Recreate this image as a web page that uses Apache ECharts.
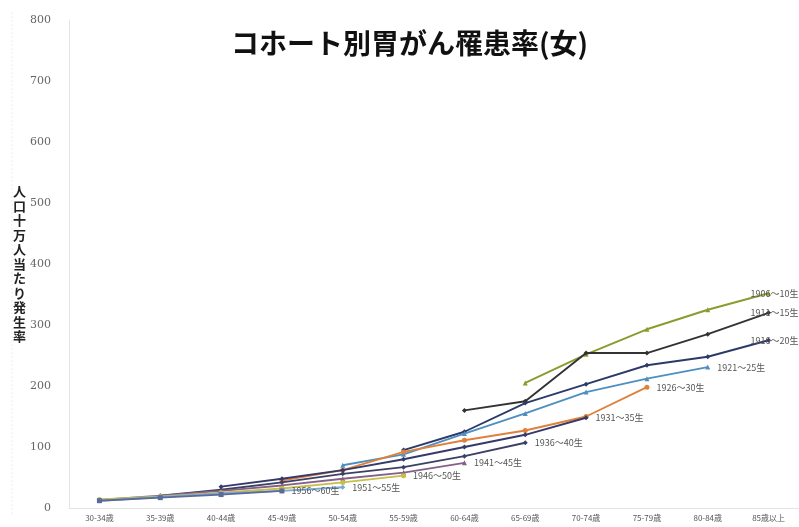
<!DOCTYPE html>
<html>
<head>
<meta charset="utf-8">
<script src="https://cdn.jsdelivr.net/npm/echarts@6/dist/echarts.min.js"></script>
<style>
html,body{margin:0;padding:0;background:#fff;}
#chart{width:799px;height:527px;}
</style>
</head>
<body>
<div id="chart"></div>
<script>
// Age groups on the x axis
const ageGroups = ['30-34歳','35-39歳','40-44歳','45-49歳','50-54歳','55-59歳',
                   '60-64歳','65-69歳','70-74歳','75-79歳','80-84歳','85歳以上'];

// Birth cohorts, and the age group where each cohort's record begins
const cohortNames = ['1906～10生','1911～15生','1916～20生','1921～25生','1926～30生','1931～35生',
                     '1936～40生','1941～45生','1946～50生','1951～55生','1956～60生'];
const startIndex  = [7, 6, 5, 4, 3, 2, 1, 0, 0, 0, 0];

// Incidence per 100,000 women, by cohort
const c1906 = [205, 252, 293, 325, 352];
const c1911 = [160, 175, 254, 254, 285, 320];
const c1916 = [95, 125, 172, 203, 234, 248, 275];
const c1921 = [70, 88, 122, 155, 190, 212, 231];
const c1926 = [45, 62, 92, 111, 127, 150, 198];
const c1931 = [35, 48, 62, 80, 100, 120, 148];
const c1936 = [20, 30, 42, 56, 67, 85, 107];
const c1941 = [13, 20, 28, 37, 48, 58, 74];
const c1946 = [14, 19, 25, 32, 42, 53];
const c1951 = [12, 18, 24, 28, 34];
const c1956 = [12, 17, 22, 28];
const cohortValues = [c1906, c1911, c1916, c1921, c1926, c1931, c1936, c1941, c1946, c1951, c1956];

const lineColors = ['#8d9a2e','#333333','#2c3a68','#4f8fc0','#e0803a','#343a6a',
                    '#3c4064','#86608a','#c6bf48','#7aa8d8','#5a6a9a'];
const markerShapes = ['triangle','diamond','diamond','triangle','circle','diamond',
                      'diamond','triangle','circle','diamond','rect'];

const series = cohortNames.map((name, k) => {
  const vals = cohortValues[k];
  const data = ageGroups.map(() => null);
  vals.forEach((v, j) => {
    const idx = startIndex[k] + j;
    if (j === vals.length - 1) {
      const atEdge = idx === ageGroups.length - 1;
      data[idx] = {
        value: v,
        label: {
          show: true,
          formatter: name,
          position: atEdge ? 'inside' : 'right',
          offset: atEdge ? [6, 0] : [2, 0],
          fontSize: 9,
          color: '#555',
          fontFamily: 'Noto Sans CJK JP'
        }
      };
    } else {
      data[idx] = v;
    }
  });
  return {
    name: name,
    type: 'line',
    data: data,
    connectNulls: false,
    symbol: markerShapes[k],
    symbolSize: 5,
    lineStyle: { width: 1.9, color: lineColors[k] },
    itemStyle: { color: lineColors[k] },
    animation: false,
    z: 3 + k
  };
});

const chart = echarts.init(document.getElementById('chart'));
chart.setOption({
  backgroundColor: '#fff',
  animation: false,
  title: {
    text: 'コホート別胃がん罹患率(女)',
    left: 226,
    top: 24,
    textStyle: { fontSize: 28, fontWeight: 'bold', color: '#111', fontFamily: 'Noto Sans CJK JP' }
  },
  grid: { left: 69, right: -1, top: 20, bottom: 19, containLabel: false },
  xAxis: {
    type: 'category',
    data: ageGroups,
    boundaryGap: true,
    axisLine: { show: true, lineStyle: { color: '#e4e4e4' } },
    axisTick: { show: false },
    axisLabel: { fontSize: 8, color: '#555', margin: 6, interval: 0, fontFamily: 'Noto Sans CJK JP' },
    splitLine: { show: false }
  },
  yAxis: {
    type: 'value',
    min: 0,
    max: 800,
    interval: 100,
    axisLine: { show: true, lineStyle: { color: '#e4e4e4' } },
    axisTick: { show: false },
    axisLabel: { fontSize: 11, color: '#666', margin: 18, fontFamily: 'DejaVu Serif' },
    splitLine: { show: false }
  },
  graphic: [
    {
      type: 'line',
      shape: { x1: 12, y1: 12, x2: 12, y2: 515 },
      style: { stroke: '#eeeeee', lineWidth: 1, lineDash: [2, 2] },
      silent: true
    },
    {
      type: 'text',
      left: 13,
      top: 184,
      style: {
        text: '人口十万人当たり発生率'.split('').join('\n'),
        font: 'bold 13px "Noto Sans CJK JP"',
        lineHeight: 14.5,
        fill: '#222'
      }
    }
  ],
  series: series
});
</script>
</body>
</html>
